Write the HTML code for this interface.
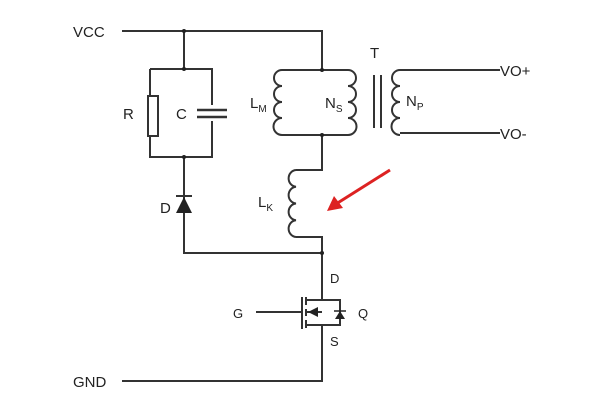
<!DOCTYPE html>
<html><head><style>body{margin:0;background:#fff}svg{display:block}text{font-family:"Liberation Sans",sans-serif;fill:#222}</style></head><body>
<svg width="615" height="408" viewBox="0 0 615 408" xmlns="http://www.w3.org/2000/svg">
<g stroke="#333" stroke-width="2" fill="none">
<path d="M122 31H322V70M184 31V69M150 69H212V105M212 121V157H150V69M184 157V253H322M322 135V170H296M296 237H322V300H306M306 325H322V381H122"/>
<rect x="148" y="96" width="10" height="40" fill="#fff"/>
<path d="M197 110H227M197 117H227" stroke-width="2.5"/>
<path d="M282 70H348M282 135H348"/>
<path d="M282 70a8 8 0 0 0 0 16a8 8 0 0 0 0 16a8 8 0 0 0 0 16a8 8 0 0 0 0 17"/>
<path d="M348 70a8 8 0 0 1 0 16a8 8 0 0 1 0 16a8 8 0 0 1 0 16a8 8 0 0 1 0 17"/>
<path d="M296 170a8 8.4 0 0 0 0 16.75a8 8.4 0 0 0 0 16.75a8 8.4 0 0 0 0 16.75a8 8.4 0 0 0 0 16.75"/>
<path d="M374 75V128M381 75V128"/>
<path d="M400 70a8 8 0 0 0 0 16a8 8 0 0 0 0 16a8 8 0 0 0 0 16a8 8 0 0 0 0 17M400 70H500M400 133H500"/>
<path d="M302 297V329M306 297V305M306 309V316M306 320V328M256 312H302M306 312H322M322 300H340V325H322"/>
<path d="M176 196H192"/>
</g>
<polygon points="184,197 176,213 192,213" fill="#222"/>
<polygon points="308,312 318,307 318,317" fill="#222"/>
<polygon points="340,311 335,319 345,319" fill="#222"/>
<path d="M334 311H346" stroke="#222" stroke-width="1.5"/>
<g fill="#222"><circle cx="184" cy="31" r="2"/><circle cx="184" cy="69" r="2"/><circle cx="322" cy="70" r="2"/><circle cx="322" cy="135" r="2"/><circle cx="184" cy="157" r="2"/><circle cx="322" cy="253" r="2"/></g>
<path d="M390 170L336 204" stroke="#d22" stroke-width="3"/>
<polygon points="327,211 334,196 343,208" fill="#d22"/>
<g font-size="15">
<text x="73" y="37">VCC</text><text x="73" y="387">GND</text>
<text x="123" y="119">R</text><text x="176" y="119">C</text>
<text x="250" y="108">L<tspan font-size="10" dy="4">M</tspan></text>
<text x="325" y="108">N<tspan font-size="10" dy="4">S</tspan></text>
<text x="370" y="58">T</text>
<text x="406" y="106">N<tspan font-size="10" dy="4">P</tspan></text>
<text x="500" y="76">VO+</text><text x="500" y="139">VO-</text>
<text x="258" y="207">L<tspan font-size="10" dy="4">K</tspan></text>
<text x="160" y="213">D</text>
<text x="330" y="283" font-size="13">D</text><text x="330" y="346" font-size="13">S</text>
<text x="233" y="318" font-size="13">G</text><text x="358" y="318" font-size="13">Q</text>
</g>
</svg>
</body></html>
